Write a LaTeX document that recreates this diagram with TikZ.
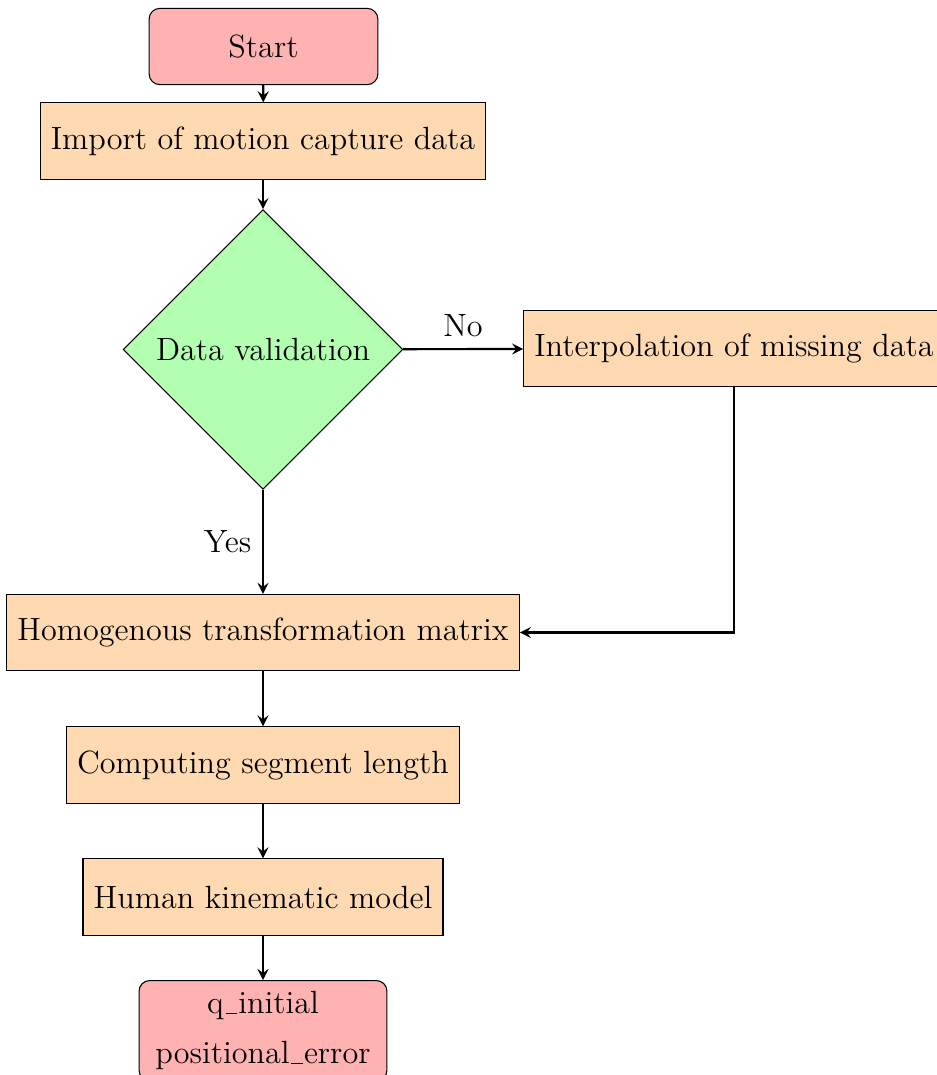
\documentclass[tikz,border=0pt,12pt]{standalone}
\usetikzlibrary{shapes.geometric,arrows}
\newcommand{\lowbar}{\leavevmode\kern.06em\vbox{\hrule width .36em}\kern.03em}
\begin{document}
\begin{tikzpicture}[x=0.37313pt,y=-0.37313pt,
  startstop/.style={rectangle, rounded corners, minimum width=3cm, minimum height=1cm, text centered, draw=black, fill=red!30},
  process/.style={rectangle, minimum width=3cm, minimum height=1cm, text centered, draw=black, fill=orange!30},
  decision/.style={diamond, minimum width=3cm, minimum height=1cm, text centered, draw=black, fill=green!30},
  arrow/.style={thick,->,>=stealth}]
\useasboundingbox (0,0) rectangle (937,1075);
\node[startstop] (start) at (263.5,46.5) {Start};
\node[process] (import) at (263,141) {Import of motion capture data};
\node[decision] (dec) at (263,349.5) {Data validation};
\node[process] (interp) at (734,348.5) {Interpolation of missing data};
\node[process] (homog) at (263,632.5) {Homogenous transformation matrix};
\node[process] (comp) at (263,765) {Computing segment length};
\node[process] (human) at (263,897) {Human kinematic model};
\node[startstop, anchor=north, align=center, minimum width=92.5pt] (final) at (263,980) {q\lowbar initial\\[4.3pt]positional\lowbar error};
\draw[arrow] (start) -- (import);
\draw[arrow] (import) -- (dec);
\draw[arrow] (dec) -- node[above] {No} (interp);
\draw[arrow] (dec) -- node[left] {Yes} (homog);
\draw[arrow] (interp.south) |- (homog.east);
\draw[arrow] (homog) -- (comp);
\draw[arrow] (comp) -- (human);
\draw[arrow] (human) -- (final);
\end{tikzpicture}
\end{document}
